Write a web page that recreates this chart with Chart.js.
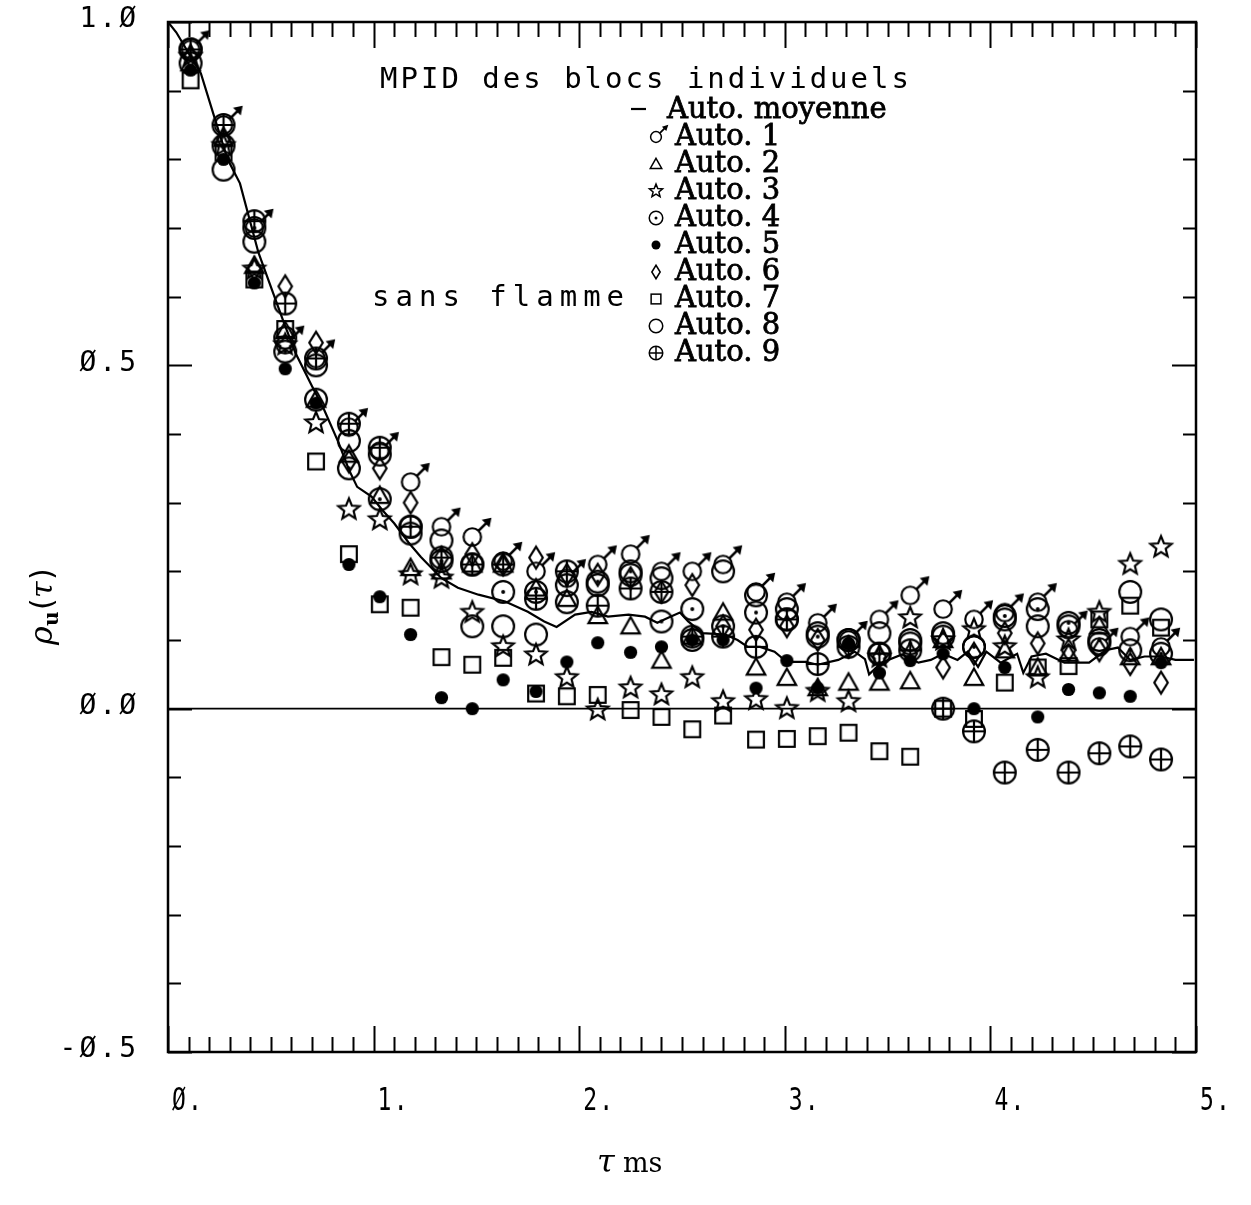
<!DOCTYPE html>
<html>
<head>
<meta charset="utf-8">
<script src="https://cdn.jsdelivr.net/npm/chart.js@4.4.1/dist/chart.umd.min.js"></script>
<style>
  html, body { margin: 0; padding: 0; background: #fff; }
  canvas { display: block; }
</style>
</head>
<body>
<canvas id="myChart" width="1251" height="1205"></canvas>
<script>
/* MPID des blocs individuels - sans flamme */

// tau (ms) of the individual blocks
const tau = [0.11, 0.27, 0.42, 0.57, 0.72, 0.88, 1.03, 1.18, 1.33, 1.48, 1.63, 1.79, 1.94, 2.09, 2.25, 2.40,
             2.55, 2.70, 2.86, 3.01, 3.16, 3.31, 3.46, 3.61, 3.77, 3.92, 4.07, 4.23, 4.38, 4.53, 4.68, 4.83];

const auto1 = [0.96, 0.85, 0.70, 0.53, 0.51, 0.41, 0.375, 0.33, 0.265, 0.25, 0.215, 0.20, 0.19, 0.21, 0.225, 0.20,
               0.20, 0.21, 0.17, 0.155, 0.125, 0.10, 0.13, 0.165, 0.145, 0.13, 0.14, 0.155, 0.115, 0.09, 0.105, 0.09];
const auto2 = [0.94, 0.83, 0.645, 0.55, 0.45, 0.37, 0.31, 0.205, 0.20, 0.21, 0.21, 0.175, 0.16, 0.135, 0.12, 0.07,
               0.105, 0.14, 0.06, 0.045, 0.03, 0.038, 0.038, 0.04, 0.10, 0.045, 0.085, 0.06, 0.08, 0.12, 0.075, 0.075];
const auto3 = [0.95, 0.82, 0.64, 0.53, 0.416, 0.29, 0.275, 0.195, 0.19, 0.14, 0.09, 0.078, 0.045, -0.002, 0.03, 0.02,
               0.045, 0.01, 0.013, 0.0, 0.025, 0.01, 0.075, 0.132, 0.10, 0.115, 0.09, 0.045, 0.10, 0.14, 0.21, 0.235];
const auto4 = [0.96, 0.82, 0.70, 0.52, 0.45, 0.35, 0.305, 0.265, 0.215, 0.21, 0.17, 0.17, 0.18, 0.185, 0.20, 0.127,
               0.145, 0.12, 0.14, 0.13, 0.105, 0.10, 0.08, 0.095, 0.11, 0.09, 0.135, 0.145, 0.125, 0.10, 0.085, 0.08];
const auto5 = [0.93, 0.80, 0.62, 0.495, 0.445, 0.21, 0.163, 0.108, 0.016, 0.0, 0.042, 0.025, 0.068, 0.096, 0.082, 0.09,
               0.10, 0.10, 0.03, 0.07, 0.03, 0.095, 0.052, 0.07, 0.08, 0.0, 0.06, -0.012, 0.028, 0.023, 0.018, 0.067];
const auto6 = [0.95, 0.83, 0.64, 0.615, 0.533, 0.36, 0.35, 0.30, 0.22, 0.225, 0.21, 0.22, 0.195, 0.195, 0.19, 0.17,
               0.18, 0.12, 0.115, 0.12, 0.10, 0.09, 0.075, 0.08, 0.06, 0.08, 0.11, 0.095, 0.085, 0.085, 0.065, 0.038];
const auto7 = [0.915, 0.81, 0.625, 0.553, 0.36, 0.225, 0.152, 0.147, 0.075, 0.064, 0.074, 0.022, 0.018, 0.02, -0.002, -0.012,
               -0.03, -0.01, -0.045, -0.044, -0.04, -0.035, -0.062, -0.07, 0.0, -0.015, 0.038, 0.06, 0.062, 0.13, 0.15, 0.118];
const auto8 = [0.94, 0.785, 0.68, 0.54, 0.50, 0.39, 0.37, 0.255, 0.245, 0.12, 0.12, 0.108, 0.155, 0.18, 0.195, 0.19,
               0.10, 0.20, 0.165, 0.145, 0.11, 0.10, 0.11, 0.10, 0.105, 0.09, 0.13, 0.12, 0.12, 0.095, 0.17, 0.13];
const auto9 = [0.96, 0.85, 0.71, 0.59, 0.51, 0.415, 0.38, 0.265, 0.22, 0.21, 0.21, 0.16, 0.20, 0.15, 0.175, 0.17,
               0.105, 0.105, 0.09, 0.13, 0.065, 0.09, 0.08, 0.085, 0.0, -0.033, -0.093, -0.06, -0.093, -0.065, -0.055, -0.074];

// Auto. moyenne (trait continu)
const meanTau = [0, 0.04, 0.09, 0.16, 0.23, 0.29, 0.35, 0.39, 0.44, 0.56, 0.62, 0.70, 0.76, 0.83, 0.88, 0.92,
                 0.99, 1.04, 1.10, 1.17, 1.23, 1.33, 1.41, 1.51, 1.64, 1.75, 1.83, 1.89, 1.98, 2.06, 2.14, 2.24,
                 2.32, 2.38, 2.43, 2.49, 2.53, 2.60, 2.71, 2.77, 2.82, 2.88, 2.95, 3.01, 3.10, 3.16, 3.26, 3.34,
                 3.39, 3.41, 3.47, 3.57, 3.65, 3.71, 3.77, 3.84, 3.89, 3.94, 3.98, 4.05, 4.13, 4.16, 4.20, 4.27,
                 4.36, 4.48, 4.56, 4.62, 4.68, 4.75, 4.83, 4.90, 4.99];
const meanRho = [1.0, 0.985, 0.96, 0.925, 0.857, 0.80, 0.765, 0.72, 0.664, 0.565, 0.518, 0.47, 0.435, 0.387, 0.348, 0.323,
                 0.309, 0.29, 0.27, 0.242, 0.221, 0.19, 0.176, 0.166, 0.156, 0.141, 0.127, 0.119, 0.137, 0.141, 0.134, 0.137,
                 0.134, 0.125, 0.132, 0.14, 0.127, 0.11, 0.108, 0.10, 0.09, 0.09, 0.083, 0.068, 0.068, 0.064, 0.071, 0.083,
                 0.072, 0.05, 0.067, 0.079, 0.067, 0.071, 0.08, 0.071, 0.083, 0.061, 0.083, 0.067, 0.08, 0.052, 0.076, 0.08,
                 0.067, 0.067, 0.085, 0.089, 0.071, 0.076, 0.076, 0.071, 0.071];

const zeroTau = [0, 5];
const zeroRho = [0, 0];

const seriesLabels = ['Auto. 1', 'Auto. 2', 'Auto. 3', 'Auto. 4', 'Auto. 5', 'Auto. 6', 'Auto. 7', 'Auto. 8', 'Auto. 9'];
const seriesSymbols = ['male', 'tri', 'star', 'odot', 'dot', 'diamond', 'square', 'circle', 'oplus'];

const xTickValues = [0, 1, 2, 3, 4, 5];
const xTickLabels = ['Ø.', '1.', '2.', '3.', '4.', '5.'];
const yTickValues = [-0.5, 0, 0.5, 1];
const yTickLabels = ['-Ø.5', 'Ø.Ø', 'Ø.5', '1.Ø'];

const allSeries = [auto1, auto2, auto3, auto4, auto5, auto6, auto7, auto8, auto9];


/* symboles dessines dans un petit canvas */
function makeSymbol(kind, size) {
	const c = document.createElement('canvas');
	const n = Math.ceil(size * 2.4);
	c.width = n;
	c.height = n;
	const g = c.getContext('2d');
	const m = n / 2;
	const lw = Math.max(1.5, size / 11);
	g.lineWidth = lw;
	g.strokeStyle = '#000';
	g.fillStyle = '#000';
	g.lineJoin = 'miter';
	const r = size / 2 - lw / 2;

	if (kind === 'male') {
		const rc = r * 0.8;
		g.beginPath(); g.arc(m, m, rc, 0, 2 * Math.PI); g.stroke();
		const a0 = rc * Math.SQRT1_2;
		const L = size * 0.5;
		const tx = m + a0 + L, ty = m - a0 - L;
		g.lineWidth = lw * 1.2;
		g.beginPath(); g.moveTo(m + a0, m - a0); g.lineTo(tx - 2, ty + 2); g.stroke();
		const h = size * 0.36;
		g.beginPath(); g.moveTo(tx + 1, ty - 1); g.lineTo(tx - h, ty + 1); g.lineTo(tx - 1, ty + h); g.closePath(); g.fill();
	} else if (kind === 'tri') {
		const hw = r * 0.85;
		g.beginPath();
		g.moveTo(m, m - r * 0.85);
		g.lineTo(m + hw, m + r * 0.65);
		g.lineTo(m - hw, m + r * 0.65);
		g.closePath(); g.stroke();
	} else if (kind === 'star') {
		const ro = r * 1.02, ri = r * 0.45;
		g.beginPath();
		for (let i = 0; i < 10; i++) {
			const ang = -Math.PI / 2 + i * Math.PI / 5;
			const rr = (i % 2 === 0) ? ro : ri;
			const px = m + rr * Math.cos(ang), py = m + rr * Math.sin(ang);
			if (i === 0) g.moveTo(px, py); else g.lineTo(px, py);
		}
		g.closePath(); g.stroke();
	} else if (kind === 'odot') {
		g.beginPath(); g.arc(m, m, r, 0, 2 * Math.PI); g.stroke();
		g.beginPath(); g.arc(m, m, Math.max(1.5, size * 0.08), 0, 2 * Math.PI); g.fill();
	} else if (kind === 'dot') {
		g.beginPath(); g.arc(m, m, size * 0.3, 0, 2 * Math.PI); g.fill();
	} else if (kind === 'diamond') {
		g.beginPath();
		g.moveTo(m, m - r);
		g.lineTo(m + r * 0.62, m);
		g.lineTo(m, m + r);
		g.lineTo(m - r * 0.62, m);
		g.closePath(); g.stroke();
	} else if (kind === 'square') {
		const s = r * 0.72;
		g.strokeRect(m - s, m - s, 2 * s, 2 * s);
	} else if (kind === 'circle') {
		g.beginPath(); g.arc(m, m, r, 0, 2 * Math.PI); g.stroke();
	} else if (kind === 'oplus') {
		g.beginPath(); g.arc(m, m, r, 0, 2 * Math.PI); g.stroke();
		g.beginPath();
		g.moveTo(m - r, m); g.lineTo(m + r, m);
		g.moveTo(m, m - r); g.lineTo(m, m + r);
		g.stroke();
	}
	return c;
}


/* axes, textes et legende */
const decorPlugin = {
	id: 'decor',
	afterDraw(chart) {
		const ctx = chart.ctx;
		const area = chart.chartArea;
		const xs = chart.scales.x;
		const ys = chart.scales.y;

		ctx.save();
		ctx.strokeStyle = '#000';
		ctx.fillStyle = '#000';

		// cadre
		ctx.lineWidth = 2.5;
		ctx.strokeRect(area.left, area.top, area.right - area.left, area.bottom - area.top);

		// graduations vers l'interieur
		ctx.lineWidth = 2;
		ctx.beginPath();
		for (let i = 0; i <= 50; i++) {
			const px = Math.round(xs.getPixelForValue(i / 10)) + 0.5;
			const len = (i % 10 === 0) ? 26 : 15;
			ctx.moveTo(px, area.bottom); ctx.lineTo(px, area.bottom - len);
			ctx.moveTo(px, area.top); ctx.lineTo(px, area.top + len);
		}
		for (let i = -5; i <= 10; i++) {
			const py = Math.round(ys.getPixelForValue(i / 10)) + 0.5;
			const len = (i % 5 === 0) ? 24 : 13;
			ctx.moveTo(area.left, py); ctx.lineTo(area.left + len, py);
			ctx.moveTo(area.right, py); ctx.lineTo(area.right - len, py);
		}
		ctx.stroke();

		// etiquettes axe x
		ctx.font = '32px "DejaVu Sans Mono"';
		ctx.textBaseline = 'alphabetic';
		ctx.textAlign = 'left';
		ctx.letterSpacing = '3px';
		xTickValues.forEach(function(v, i) {
			const px = xs.getPixelForValue(v);
			ctx.save();
			ctx.translate(px + 4, 1110);
			ctx.scale(0.72, 1);
			ctx.fillText(xTickLabels[i], 0, 0);
			ctx.restore();
		});

		// etiquettes axe y
		ctx.font = '28px "DejaVu Sans Mono"';
		ctx.textAlign = 'right';
		ctx.textBaseline = 'middle';
		ctx.letterSpacing = '3px';
		yTickValues.forEach(function(v, i) {
			const py = ys.getPixelForValue(v);
			ctx.fillText(yTickLabels[i], 139, py - 2);
		});
		ctx.letterSpacing = '0px';

		// titre axe x : tau ms
		ctx.textAlign = 'left';
		ctx.textBaseline = 'alphabetic';
		ctx.font = 'italic 32px "DejaVu Serif"';
		ctx.fillText('τ', 597, 1172);
		ctx.font = '27px "DejaVu Serif"';
		ctx.fillText('ms', 623, 1172);

		// titre axe y : rho_u(tau)
		ctx.save();
		ctx.translate(52, 600);
		ctx.rotate(-Math.PI / 2);
		ctx.textAlign = 'left';
		ctx.font = 'italic 32px "DejaVu Serif"';
		ctx.fillText('ρ', -45, 0);
		ctx.font = 'bold 20px "DejaVu Serif"';
		ctx.fillText('u', -26, 6);
		ctx.font = '30px "DejaVu Sans"';
		ctx.fillText('(', -10, 0);
		ctx.font = 'italic 30px "DejaVu Serif"';
		ctx.fillText('τ', 2, 0);
		ctx.font = '30px "DejaVu Sans"';
		ctx.fillText(')', 20, 0);
		ctx.restore();

		// titre interne
		ctx.font = '29px "DejaVu Sans Mono"';
		ctx.textAlign = 'left';
		ctx.textBaseline = 'middle';
		ctx.letterSpacing = '3px';
		ctx.fillText('MPID des blocs individuels', 380, 80);
		ctx.letterSpacing = '6px';
		ctx.fillText('sans flamme', 372, 298);
		ctx.letterSpacing = '0px';

		// legende (graisse intermediaire : texte normal + leger contour)
		ctx.font = '29px "DejaVu Serif"';
		ctx.lineWidth = 2.2;
		ctx.beginPath(); ctx.moveTo(631, 109); ctx.lineTo(646, 109); ctx.stroke();
		ctx.lineWidth = 0.8;
		ctx.fillText('Auto. moyenne', 667, 110);
		ctx.strokeText('Auto. moyenne', 667, 110);
		seriesLabels.forEach(function(lbl, i) {
			const yy = 137 + i * 27;
			const sym = legendSymbols[i];
			ctx.drawImage(sym, 656 - sym.width / 2, yy - sym.height / 2);
			ctx.fillText(lbl, 675, yy);
			ctx.strokeText(lbl, 675, yy);
		});

		ctx.restore();
	}
};

const plotSymbols = seriesSymbols.map(function(k) { return makeSymbol(k, k === 'dot' ? 22 : 24); });
const legendSymbols = seriesSymbols.map(function(k) { return makeSymbol(k, 15); });

const datasets = [];
allSeries.forEach(function(vals, i) {
	datasets.push({
		label: seriesLabels[i],
		data: tau.map(function(t, k) { return { x: t, y: vals[k] }; }),
		showLine: false,
		pointStyle: plotSymbols[i],
		pointRadius: 5,
		pointHoverRadius: 5
	});
});
datasets.push({
	label: 'Auto. moyenne',
	data: meanTau.map(function(t, k) { return { x: t, y: meanRho[k] }; }),
	showLine: true,
	borderColor: '#000',
	borderWidth: 2.2,
	pointRadius: 0,
	tension: 0
});
datasets.push({
	label: 'zero',
	data: zeroTau.map(function(t, k) { return { x: t, y: zeroRho[k] }; }),
	showLine: true,
	borderColor: '#000',
	borderWidth: 1.8,
	pointRadius: 0
});

const myChart = new Chart(document.getElementById('myChart').getContext('2d'), {
	type: 'scatter',
	data: { datasets: datasets },
	options: {
		responsive: false,
		animation: false,
		devicePixelRatio: 1,
		layout: { padding: { left: 168, top: 22, right: 55, bottom: 153 } },
		plugins: {
			legend: { display: false },
			tooltip: { enabled: false }
		},
		scales: {
			x: { type: 'linear', min: 0, max: 5, display: false },
			y: { type: 'linear', min: -0.5, max: 1, display: false }
		}
	},
	plugins: [decorPlugin]
});
</script>
</body>
</html>
